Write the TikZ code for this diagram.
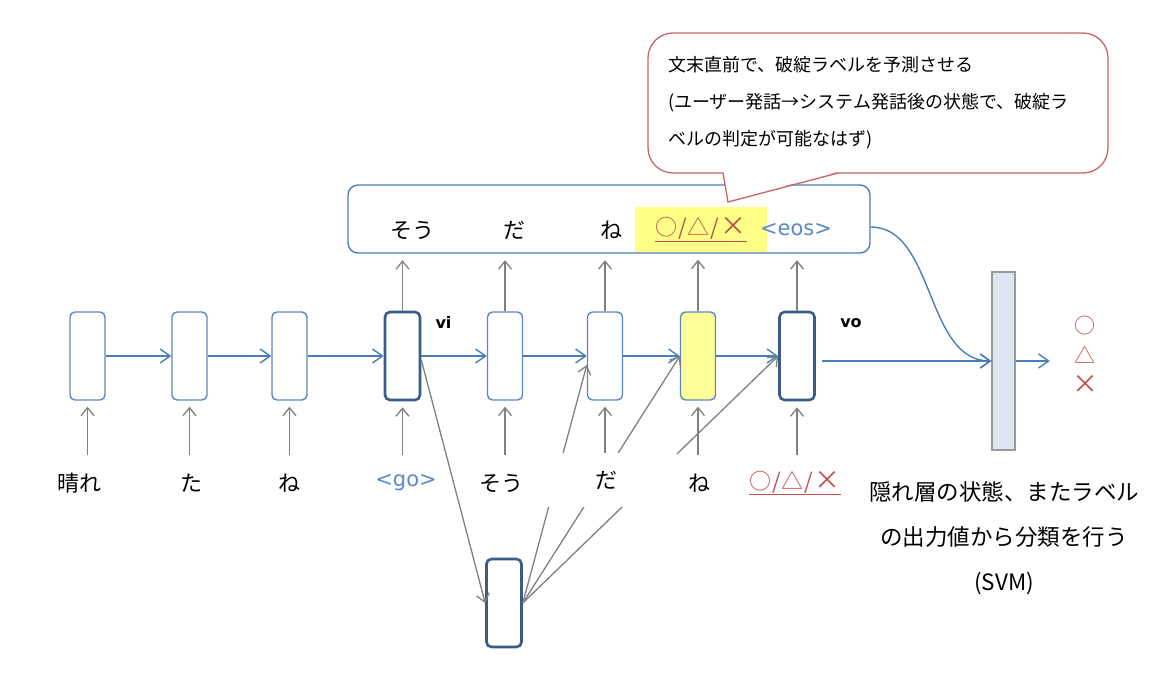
\documentclass[tikz,border=0pt]{standalone}
\usepackage{fontspec}
\setmainfont{DejaVu Sans}
\newfontfamily\jp{Noto Sans CJK JP}
\usetikzlibrary{arrows.meta}
\definecolor{bline}{HTML}{4A7EBB}
\definecolor{cellc}{HTML}{5B87C2}
\definecolor{darkc}{HTML}{385D8A}
\definecolor{garc}{HTML}{808080}
\definecolor{redc}{HTML}{C0504D}
\definecolor{calc}{HTML}{C86464}
\definecolor{bluetxt}{HTML}{5A8AC6}
\definecolor{yel}{HTML}{FFFF99}
\definecolor{hil}{HTML}{FFFF88}
\definecolor{barc}{HTML}{DCE6F2}
\newcommand\bigcross{{\fontsize{26}{26}\selectfont ×}}
\newcommand\labeltriple{\underline{○\hspace{1pt}/\hspace{1pt}△\hspace{1pt}/\hspace{1pt}\bigcross}}
\begin{document}
\begin{tikzpicture}[x=1pt,y=-1pt,
  cell/.style={draw=cellc, line width=1.4pt, rounded corners=5pt, minimum width=35pt, minimum height=88pt, inner sep=0pt, fill=white},
  keycell/.style={cell, draw=darkc, line width=2.6pt},
  harrow/.style={draw=bline, line width=1.4pt, -{Straight Barb[length=10pt,width=14pt,line width=1.4pt]}},
  garrow/.style={draw=garc, line width=1.3pt, -{Straight Barb[length=8pt,width=13pt,line width=1.3pt]}},
  lbl/.style={font=\jp\fontsize{22}{26}\selectfont, inner sep=0pt, minimum height=56pt},
  toplbl/.style={lbl, minimum height=45pt},
  lat/.style={font=\fontsize{21}{25}\selectfont, inner sep=0pt},
  callout/.style={draw=calc, line width=1.3pt, rounded corners=25pt, fill=white, minimum width=460pt, minimum height=140pt, text width=420pt, align=left, inner xsep=20pt, font=\jp\fontsize{18}{37}\selectfont},
]
\useasboundingbox (0,0) rectangle (1176,677);

% cells
\node[cell] (b1) at (87.5,356) {};
\node[cell] (b2) at (189.5,356) {};
\node[cell] (b3) at (289.5,356) {};
\node[keycell] (b4) at (402.5,356) {};
\node[cell] (b5) at (505,356) {};
\node[cell] (b6) at (605,356) {};
\node[cell, fill=yel] (b7) at (698,356) {};
\node[keycell] (b8) at (797,356) {};
\node[keycell] (enc) at (504,603) {};
\node[draw=garc!80, fill=barc, line width=1.2pt, minimum width=23pt, minimum height=178pt, inner sep=0pt] (bar) at (1003.5,361) {};

% horizontal arrows
\draw[harrow] (b1.east) -- (b2.west);
\draw[harrow] (b2.east) -- (b3.west);
\draw[harrow] (b3.east) -- (b4.west);
\draw[harrow] (b4.east) -- (b5.west);
\draw[harrow] (b5.east) -- (b6.west);
\draw[harrow] (b6.east) -- (b7.west);
\draw[harrow] (b7.east) -- (b8.west);
\draw[harrow, shorten <=6pt] (b8.east |- bar.west) -- (bar.west);

% grey diagonal connectors
\draw[garrow] ([yshift=-4pt]b4.east) -- (enc.west);
\draw[garrow] (enc.east) -- ([yshift=-9pt]b6.west);
\draw[garrow] (enc.east) -- (b7.west);
\draw[garrow] (enc.east) -- (b8.west);

% bottom labels
\node[lbl] (l1) at (79.5,483) {晴れ};
\node[lbl] (l2) at (191,483) {た};
\node[lbl] (l3) at (289.5,483) {ね};
\node[lat, minimum height=56pt, text=bluetxt] (l4) at (406,483) {<go>};
\node[lbl] (l5) at (501.5,483) {そう};
\node[lbl, fill=white, minimum width=142pt, minimum height=54pt] (l6) at (606,480) {だ};
\node[lbl] (l7) at (699,483) {ね};
\node[lbl, text=redc] (l8) at (795,483) {\labeltriple};

\foreach \i in {1,...,8}{
  \draw[garrow, shorten >=6pt] (b\i.south |- l\i.north) -- (b\i.south);
}

% top box
\node[draw=bline, line width=1.4pt, rounded corners=10pt, fill=white, minimum width=522pt, minimum height=68pt, inner sep=0pt] (top) at (609,219) {};
\node[toplbl] (t1) at (412,230) {そう};
\node[toplbl] (t2) at (514,230) {だ};
\node[toplbl] (t3) at (611,230) {ね};
\node[toplbl, fill=hil, minimum width=132pt, text=redc] (t4) at (701,229.5) {\labeltriple};
\node[lat, minimum height=45pt, text=bluetxt] (t5) at (796,230) {<eos>};

\draw[garrow, shorten >=7.5pt] (b4.north) -- (b4.north |- t1.south);
\draw[garrow, shorten >=7.5pt] (b5.north) -- (b5.north |- t2.south);
\draw[garrow, shorten >=7.5pt] (b6.north) -- (b6.north |- t3.south);
\draw[garrow, shorten >=7.5pt] (b7.north) -- (b7.north |- t4.south);
\draw[garrow, shorten >=7.5pt] (b8.north) -- (b8.north |- t5.south);

% vi / vo
\node[font=\bfseries\fontsize{16}{19}\selectfont, inner sep=0pt] (vi) at (443.5,322) {vi};
\node[font=\bfseries\fontsize{16}{19}\selectfont, inner sep=0pt] (vo) at (851,323) {vo};

% curve from output sequence to classifier
\draw[harrow] ([yshift=-8pt]top.east) .. controls (935,227) and (925,361) .. (bar.west);

% output classes
\node[font=\jp\fontsize{21}{30}\selectfont, text=redc, align=center, inner sep=0pt] (sym) at (1085,355) {○\\△\\\bigcross};
\draw[harrow, shorten >=22pt] (bar.east) -- (bar.east -| sym.west);

% explanation
\node[font=\jp\fontsize{22.5}{45}\selectfont, align=center, inner sep=0pt] (expl) at (1004,538) {隠れ層の状態、またラベル\\の出力値から分類を行う\\(SVM)};

% callout
\node[callout] (note) at (878,103) {文末直前で、破綻ラベルを予測させる\\(ユーザー発話→システム発話後の状態で、破綻ラ\\ベルの判定が可能なはず)};
\fill[white] (723.2,171.6) -- (838.5,171.6) -- (728,201) -- cycle;
\draw[draw=calc, line width=1.3pt, line join=miter] (723,173) -- (728,202) -- (838,173);
\end{tikzpicture}
\end{document}
